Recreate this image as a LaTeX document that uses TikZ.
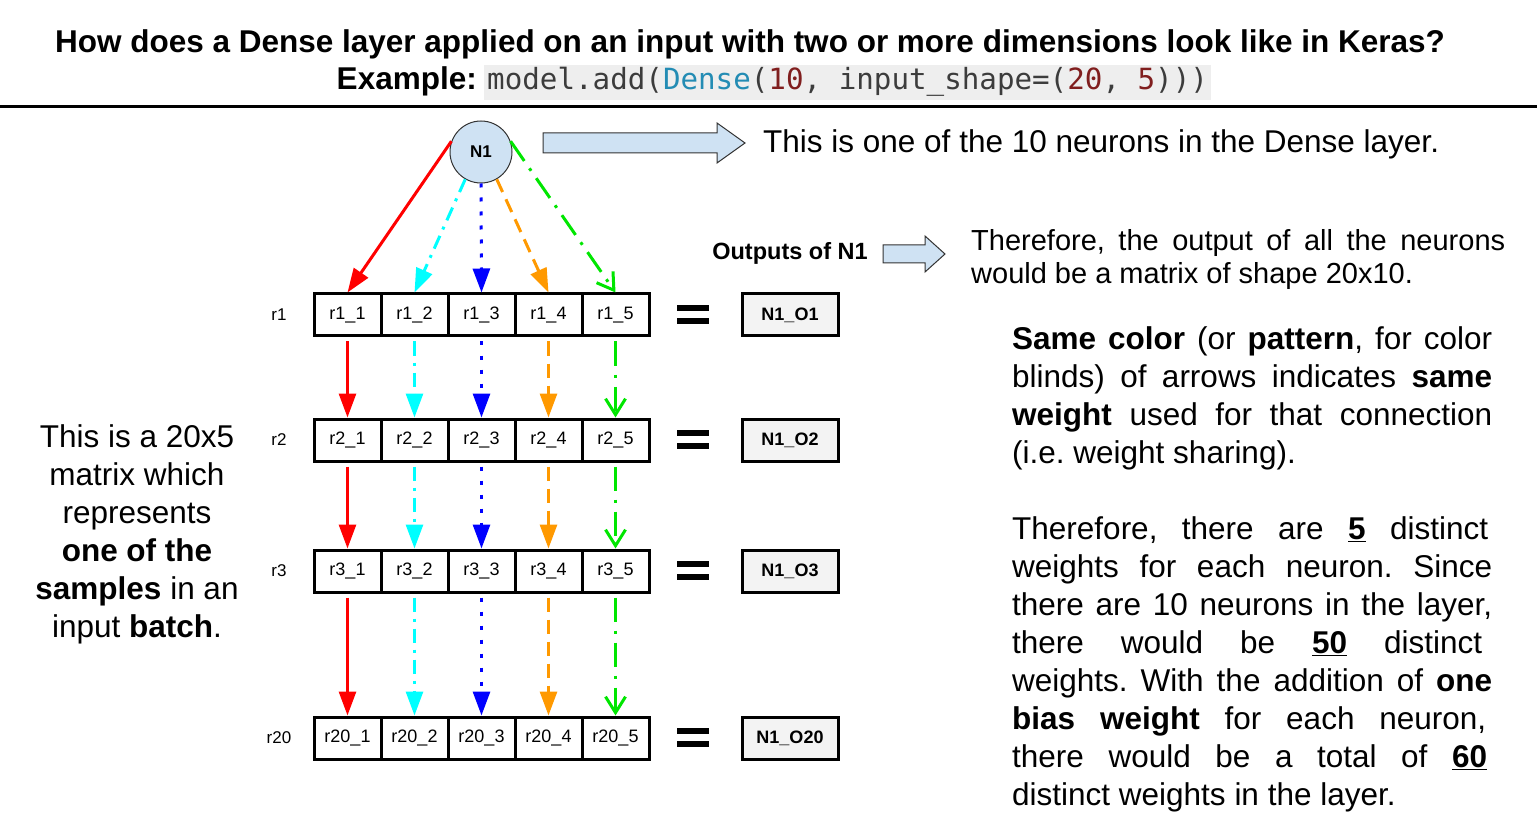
\documentclass[tikz,border=0pt]{standalone}
\usepackage{fontspec}
\setmainfont{Liberation Sans}
\newfontfamily\codefont{DejaVu Sans Mono}
\usetikzlibrary{arrows.meta}
\definecolor{nfill}{RGB}{207,226,243}
\definecolor{ofill}{RGB}{243,243,243}
\definecolor{codebg}{RGB}{238,238,238}
\definecolor{codegray}{RGB}{60,60,60}
\definecolor{codeblue}{RGB}{35,140,180}
\definecolor{codered}{RGB}{128,30,30}
\definecolor{myorange}{RGB}{255,153,0}
\definecolor{mygreen}{RGB}{0,230,0}
\definecolor{mycyan}{RGB}{0,255,255}
\newcommand{\fs}[1]{\fontsize{#1}{#1}\selectfont}
\frenchspacing
\tikzset{
  cell/.style={draw, line width=3pt, minimum width=67pt, minimum height=42pt, inner sep=0pt, font=\fs{18}},
  outb/.style={draw, line width=3pt, fill=ofill, minimum width=96pt, minimum height=42pt, inner sep=0pt, font=\fs{18}\bfseries},
  rlab/.style={font=\fs{17}},
  arr/.style={line width=3pt, -{Triangle[length=24pt,width=17pt]}},
  ared/.style={arr, red},
  acyan/.style={arr, mycyan, dash pattern=on 14pt off 7pt on 3pt off 7pt},
  ablue/.style={arr, blue, dash pattern=on 4pt off 10pt},
  aorange/.style={arr, myorange, dash pattern=on 14pt off 8pt},
  agreen/.style={line width=3pt, mygreen, dash pattern=on 24pt off 9pt on 3pt off 9pt, -{Straight Barb[length=16pt,width=20pt]}},
  blockarrow/.style={fill=nfill, draw=black!80, line width=1pt},
  body/.style={font=\fs{31.5}, anchor=base west, inner sep=0pt},
}
\begin{document}
\begin{tikzpicture}[x=1pt,y=-1pt]
\useasboundingbox (0,0) rectangle (1537,826);
% title
\node[font=\fs{31.5}\bfseries, anchor=base, inner sep=0pt] (t1) at (750,53) {How does a Dense layer applied on an input with two or more dimensions look like in Keras?};
\node[font=\fs{31.5}\bfseries, anchor=base east, inner sep=0pt] (t2) at (477,90) {Example:};
\node[fill=codebg, anchor=base west, inner sep=3pt, font=\codefont\fs{29.2}] (code) at (484,90)
 {\textcolor{codegray}{model.add(}\textcolor{codeblue}{Dense}\textcolor{codegray}{(}\textcolor{codered}{10}\textcolor{codegray}{, input\_shape=(}\textcolor{codered}{20}\textcolor{codegray}{, }\textcolor{codered}{5}\textcolor{codegray}{)))}};
\draw[line width=3pt] (0,107) -- (1537,107);
% neuron
\node[circle, draw=black!80, line width=1pt, fill=nfill, minimum size=62pt, inner sep=0pt, font=\fs{17}\bfseries] (N1) at (481,152) {N1};
\draw[blockarrow] (543,133) -- (717,133) -- (717,123) -- (745,143) -- (717,163) -- (717,153) -- (543,153) -- cycle;
\node[font=\fs{31.5}, anchor=base west, inner sep=0pt] (d1) at (763,153) {This is one of the 10 neurons in the Dense layer.};
% rows
\foreach \r/\lab/\y in {1/r1/315, 2/r2/440, 3/r3/571, 4/r20/738}{
  \node[rlab] (lab\r) at (279,\y) {\lab};
  \foreach \c in {1,...,5}{
    \node[cell] (c\r\c) at ({347.5+67*(\c-1)},\y) {\lab\_\c};
  }
  \fill (677,\y-10) rectangle (709,\y-4);
  \fill (677,\y+3) rectangle (709,\y+9);
}
\node[outb] (o1) at (790,315) {N1\_O1};
\node[outb] (o2) at (790,440) {N1\_O2};
\node[outb] (o3) at (790,571) {N1\_O3};
\node[outb] (o4) at (790,738) {N1\_O20};
% arrows from neuron
\draw[ared] (N1.160) -- (c11.north);
\draw[acyan] (N1.240) -- (c12.north);
\draw[ablue] (N1.south) -- (c13.north);
\draw[aorange] (N1.300) -- (c14.north);
\draw[agreen] (N1.20) -- (c15.north);
% arrows between rows
\foreach \a/\b in {1/2,2/3,3/4}{
  \draw[ared] ([yshift=-4pt]c\a1.south) -- (c\b1.north);
  \draw[acyan] ([yshift=-4pt]c\a2.south) -- (c\b2.north);
  \draw[ablue] ([yshift=-4pt]c\a3.south) -- (c\b3.north);
  \draw[aorange] ([yshift=-4pt]c\a4.south) -- (c\b4.north);
  \draw[agreen] ([yshift=-4pt]c\a5.south) -- (c\b5.north);
}
% outputs label
\node[font=\fs{23.5}\bfseries] (outl) at (790,253) {Outputs of N1};
\draw[blockarrow] (883,245) -- (925,245) -- (925,236) -- (945,254) -- (925,272) -- (925,263) -- (883,263) -- cycle;
\node[font=\fs{29}, anchor=base west, inner sep=0pt] (m1) at (971,251) {\makebox[534pt][s]{Therefore, the output of all the neurons}};
\node[font=\fs{29}, anchor=base west, inner sep=0pt] (m2) at (971,284) {would be a matrix of shape 20x10.};
% left text
\node[font=\fontsize{31.5}{38}\selectfont, align=center, inner sep=0pt] (left) at (137,534) {This is a 20x5\\ matrix which\\ represents\\ \textbf{one of the}\\ \textbf{samples} in an\\ input \textbf{batch}.};
% right paragraph 1
\node[body] (p11) at (1012,349) {\makebox[480pt][s]{\textbf{Same color} (or \textbf{pattern}, for color}};
\node[body] (p12) at (1012,387) {\makebox[480pt][s]{blinds) of arrows indicates \textbf{same}}};
\node[body] (p13) at (1012,425) {\makebox[480pt][s]{\textbf{weight} used for that connection}};
\node[body] (p14) at (1012,463) {(i.e. weight sharing).};
% paragraph 2
\node[body] (p21) at (1012,539) {\makebox[476pt][s]{Therefore, there are \underline{\textbf{5}} distinct}};
\node[body] (p22) at (1012,577) {\makebox[480pt][s]{weights for each neuron. Since}};
\node[body] (p23) at (1012,615) {\makebox[480pt][s]{there are 10 neurons in the layer,}};
\node[body] (p24) at (1012,653) {\makebox[470pt][s]{there would be \underline{\textbf{50}} distinct}};
\node[body] (p25) at (1012,691) {\makebox[480pt][s]{weights. With the addition of \textbf{one}}};
\node[body] (p26) at (1012,729) {\makebox[474pt][s]{\textbf{bias weight} for each neuron,}};
\node[body] (p27) at (1012,767) {\makebox[475pt][s]{there would be a total of \underline{\textbf{60}}}};
\node[body] (p28) at (1012,805) {distinct weights in the layer.};
\end{tikzpicture}
\end{document}
